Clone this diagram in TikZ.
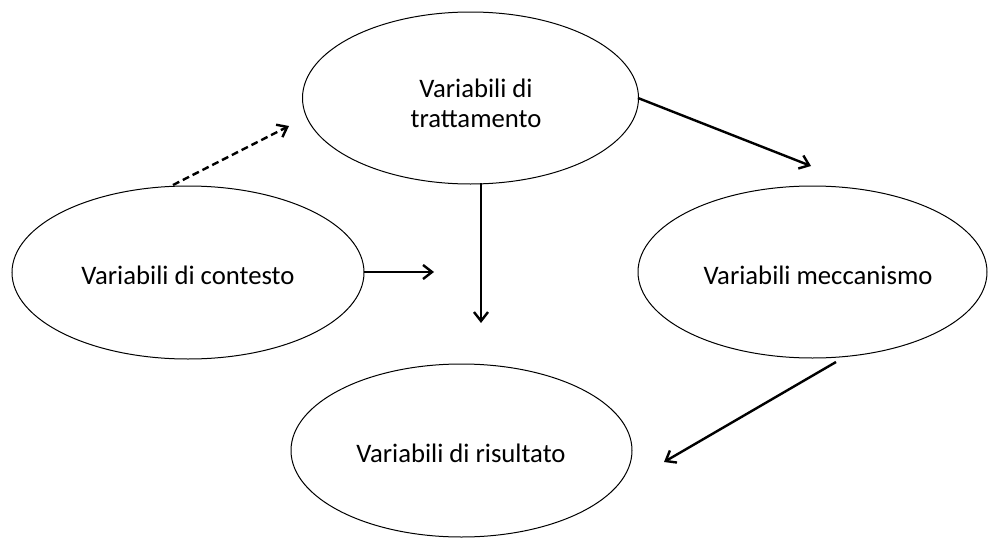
\documentclass[tikz,border=0pt]{standalone}
\usepackage{fontspec}
\setmainfont{Carlito}
\usetikzlibrary{shapes.geometric,arrows.meta}
\tikzset{
  txt/.style={font=\fontsize{26.7}{30}\selectfont, align=center},
  ell/.style={draw=black, line width=1pt, ellipse, inner sep=0pt, txt},
  conn/.style={line width=2.4pt, -{Straight Barb[length=9pt,width=14pt,line width=2.4pt]}},
  dconn/.style={conn, dash pattern=on 7pt off 4pt},
}
\begin{document}
\begin{tikzpicture}[x=1pt,y=-1pt]
\useasboundingbox[fill=white] (0,0) rectangle (988,538);
\node[ell, minimum width=336pt, minimum height=172pt] (tr) at (470.5,98) {};
\node[txt] (trt) at (476,103) {Variabili di\\trattamento};
\node[ell, minimum width=352pt, minimum height=173pt] (ctx) at (188,272.5) {};
\node[txt] (ctxt) at (188,275) {Variabili di contesto};
\node[ell, minimum width=349pt, minimum height=172pt] (mec) at (812.5,272) {};
\node[txt] (mect) at (818,275) {Variabili meccanismo};
\node[ell, minimum width=341pt, minimum height=173pt] (res) at (461.5,450.5) {};
\node[txt] (rest) at (461,453) {Variabili di risultato};
\coordinate (d1) at (173,185);
\coordinate (d2) at (289,126);
\coordinate (a1) at (638,98);
\coordinate (a2) at (811,166);
\coordinate (v1) at (481,183);
\coordinate (v2) at (481,323);
\coordinate (h1) at (364,272);
\coordinate (h2) at (434,272);
\coordinate (b1) at (836,362);
\coordinate (b2) at (664,462);
\draw[dconn] (d1) -- (d2);
\draw[conn] (a1) -- (a2);
\draw[conn] (v1) -- (v2);
\draw[conn] (h1) -- (h2);
\draw[conn] (b1) -- (b2);
\end{tikzpicture}
\end{document}
